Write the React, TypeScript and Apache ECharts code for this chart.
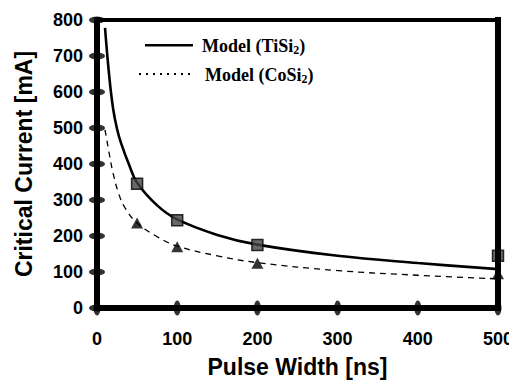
import React, { useEffect, useRef } from "react";
import * as echarts from "echarts";

// Pulse width [ns] vs critical current [mA]
const tisi2Model: [number, number][] = [
  [10, 778], [15, 650], [20, 555], [25, 497], [30, 458], [40, 398], [50, 348],
  [75, 285], [100, 246], [150, 203], [200, 176], [300, 145], [400, 125], [500, 108],
];
const cosi2Model: [number, number][] = [
  [10, 495], [16, 420], [20, 375], [27, 318], [35, 278], [50, 236], [75, 198],
  [100, 172], [150, 145], [200, 126], [300, 104], [400, 91], [500, 81],
];
const tisi2Measured: [number, number][] = [
  [50, 345], [100, 244], [200, 175], [500, 145],
];
const cosi2Measured: [number, number][] = [
  [50, 236], [100, 170], [200, 124], [500, 95],
];
const xTicks = [0, 100, 200, 300, 400, 500];
const yTicks = [0, 100, 200, 300, 400, 500, 600, 700, 800];

const SANS = "'Liberation Sans', Arial, sans-serif";
const SERIF = "'Liberation Serif', 'Times New Roman', serif";

const W = 517, H = 389;
const GRID = { left: 97, right: 19, top: 20, bottom: 81 };

export default function App() {
  const ref = useRef<HTMLDivElement>(null);
  useEffect(() => {
    if (!ref.current) return;
    const chart = echarts.init(ref.current, null, { renderer: "svg" });
    const xMin = xTicks[0];
    const xMax = xTicks[xTicks.length - 1];
    const yMin = yTicks[0];
    const yMax = yTicks[yTicks.length - 1];
    const legendText = (m: string) => ({
      text: `{a|Model (${m}}{s|2}{a|)}`,
      rich: {
        a: { fontFamily: SERIF, fontWeight: "bold", fontSize: 18, lineHeight: 20, fill: "#000" },
        s: { fontFamily: SERIF, fontWeight: "bold", fontSize: 12, lineHeight: 12, verticalAlign: "bottom", fill: "#000" },
      },
      fill: "#000",
      verticalAlign: "middle",
    });
    chart.setOption({
      animation: false,
      backgroundColor: "#fff",
      grid: GRID,
      xAxis: {
        type: "value", min: xMin, max: xMax, interval: 100,
        name: "Pulse Width [ns]", nameLocation: "middle", nameGap: 47,
        nameTextStyle: { fontFamily: SANS, fontWeight: "bold", fontSize: 23, color: "#000" },
        axisLine: { show: false },
        axisTick: { show: false },
        axisLabel: { margin: 22, fontFamily: SANS, fontWeight: "bold", fontSize: 18, color: "#000" },
        splitLine: { show: false },
      },
      yAxis: {
        type: "value", min: yMin, max: yMax, interval: 100,
        name: "Critical Current [mA]", nameLocation: "middle", nameGap: 62,
        nameTextStyle: { fontFamily: SANS, fontWeight: "bold", fontSize: 23, color: "#000" },
        axisLine: { show: false },
        axisTick: { show: false },
        axisLabel: { margin: 14, fontFamily: SANS, fontWeight: "bold", fontSize: 18, color: "#000" },
        splitLine: { show: false },
      },
      graphic: [
        { type: "rect", shape: { x: 145, y: 44, width: 48, height: 2.4 }, style: { fill: "#000" } },
        { type: "line", shape: { x1: 139, y1: 74, x2: 190, y2: 74 }, style: { stroke: "#000", lineWidth: 2, lineDash: [2, 5] } },
        { type: "text", x: 202, y: 46, style: legendText("TiSi") },
        { type: "text", x: 205, y: 75, style: legendText("CoSi") },
      ],
      series: [
        // Plot frame along the axis extents
        {
          name: "frame", type: "line", silent: true, clip: false, showSymbol: false, z: 6,
          data: [[xMin, yMax], [xMin, yMin], [xMax, yMin], [xMax, yMax]],
          lineStyle: { color: "#000", width: 6, cap: "square", join: "miter" },
        },
        {
          name: "frameTop", type: "line", silent: true, clip: false, showSymbol: false, z: 6,
          data: [[xMin, yMax], [xMax, yMax]],
          lineStyle: { color: "#000", width: 4, cap: "square" },
        },
        {
          name: "Model (TiSi2)", type: "line", data: tisi2Model, smooth: 0.4,
          showSymbol: false, lineStyle: { color: "#000", width: 2.6 }, z: 3,
        },
        {
          name: "Model (CoSi2)", type: "line", data: cosi2Model, smooth: 0.4,
          showSymbol: false, lineStyle: { color: "#000", width: 1.3, type: [6, 5] }, z: 3,
        },
        {
          name: "TiSi2", type: "scatter", data: tisi2Measured, symbol: "rect", symbolSize: 11,
          itemStyle: { color: "#444", borderColor: "#000", borderWidth: 1.5 }, z: 4,
        },
        {
          name: "CoSi2", type: "scatter", data: cosi2Measured, symbol: "triangle", symbolSize: [12, 11],
          itemStyle: { color: "#000" }, z: 4,
        },
        // Tick blobs on both sides of the axes, placed by the axis scales
        {
          name: "xTicks", type: "scatter", silent: true, data: xTicks.map((v) => [v, yMin]),
          symbol: "circle", symbolSize: [7, 15], itemStyle: { color: "#000" }, z: 7, clip: false,
        },
        {
          name: "yTicks", type: "scatter", silent: true, data: yTicks.map((v) => [xMin, v]),
          symbol: "circle", symbolSize: [16, 7], itemStyle: { color: "#000" }, z: 7, clip: false,
        },
      ],
    });
    return () => chart.dispose();
  }, []);
  return <div ref={ref} style={{ width: W, height: H, margin: -8 }} />;
}
